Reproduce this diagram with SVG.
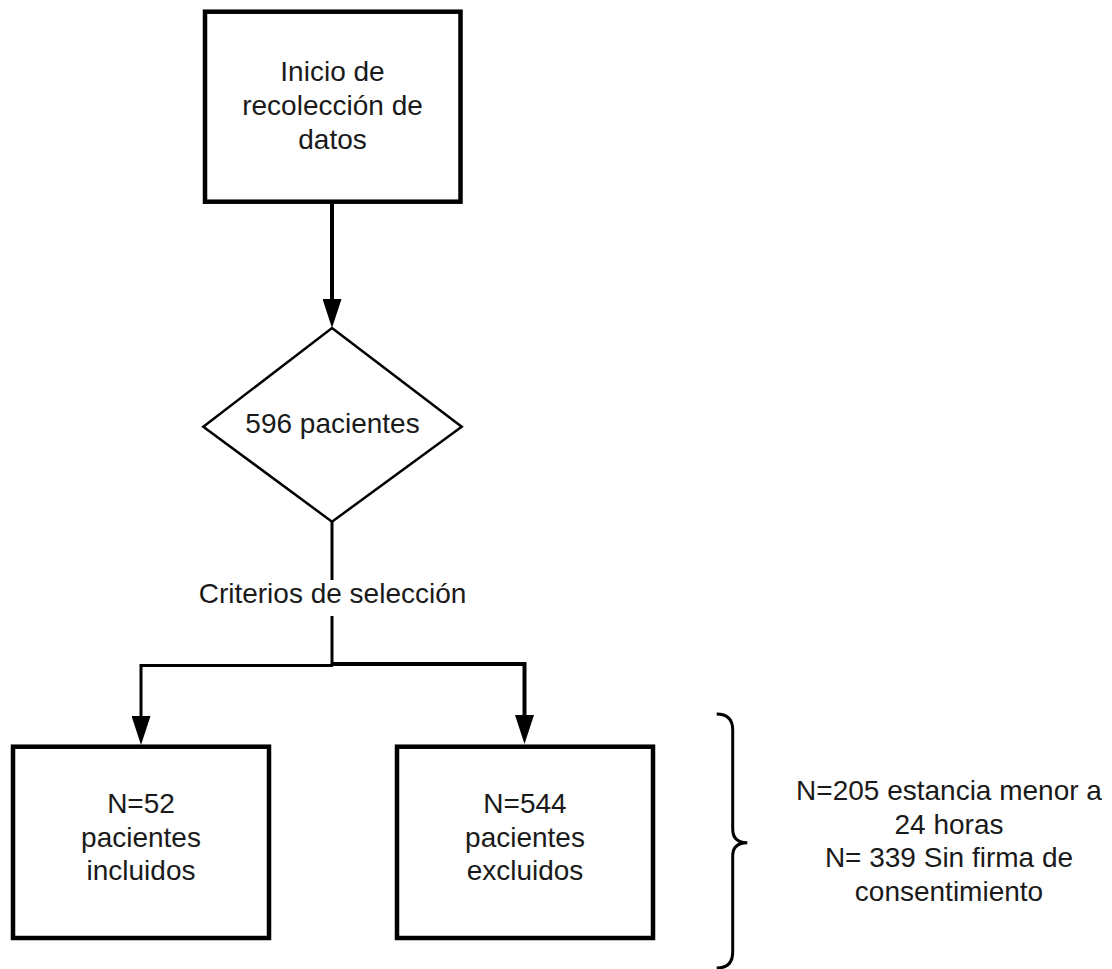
<svg xmlns="http://www.w3.org/2000/svg" width="1112" height="969" viewBox="0 0 1112 969">
<style>
.box{fill:#fff;stroke:#000;stroke-width:4.5}
.dia{fill:#fff;stroke:#000;stroke-width:2.5}
.t{font-family:"Liberation Sans",Arial,sans-serif;font-size:28px;fill:#1a1a1a;text-anchor:middle}
.c{fill:none;stroke:#000;stroke-linejoin:miter}
</style>
<defs>
<marker id="ah" viewBox="0 0 29 19" refX="0" refY="9.5" markerWidth="29" markerHeight="19" markerUnits="userSpaceOnUse" orient="auto">
<path d="M0,0 L29,9.5 L0,19 Z" fill="#000"/>
</marker>
</defs>
<g id="connectors">
<path class="c" d="M332,204 L332,299" stroke-width="4" marker-end="url(#ah)"/>
<path class="c" d="M332,522 L332,580" stroke-width="3"/>
<path class="c" d="M332,616 L332,665" stroke-width="3"/>
<path class="c" d="M333,665.5 L141,665.5 L141,716" stroke-width="3" marker-end="url(#ah)"/>
<path class="c" d="M331,664 L524.5,664 L524.5,715" stroke-width="4" marker-end="url(#ah)"/>
</g>
<g id="inicio">
<rect class="box" x="205" y="11.7" width="255.5" height="190"/>
<text class="t" x="332.5" y="81">Inicio de</text>
<text class="t" x="332.5" y="115">recolección de</text>
<text class="t" x="332.5" y="149">datos</text>
</g>
<g id="pacientes596">
<polygon class="dia" points="332,328 461.7,426.7 332,521.7 203.3,426.7"/>
<text class="t" x="332.5" y="433">596 pacientes</text>
</g>
<g id="criterios">
<text class="t" x="332.5" y="603">Criterios de selección</text>
</g>
<g id="incluidos">
<rect class="box" x="13" y="746.7" width="256" height="191.3"/>
<text class="t" x="141" y="813">N=52</text>
<text class="t" x="141" y="846.5">pacientes</text>
<text class="t" x="141" y="880">incluidos</text>
</g>
<g id="excluidos">
<rect class="box" x="397" y="746.7" width="256" height="191.3"/>
<text class="t" x="525" y="813">N=544</text>
<text class="t" x="525" y="846.5">pacientes</text>
<text class="t" x="525" y="880">excluidos</text>
</g>
<g id="detalle">
<path d="M716.7,714 Q732.7,714 732.7,730 L732.7,829 Q732.7,842.7 747.3,842.7 Q732.7,842.7 732.7,856 L732.7,952 Q732.7,968 716.7,968" fill="none" stroke="#000" stroke-width="3"/>
<text class="t" x="949" y="800">N=205 estancia menor a</text>
<text class="t" x="949" y="833.5">24 horas</text>
<text class="t" x="949" y="867">N= 339 Sin firma de</text>
<text class="t" x="949" y="900.5">consentimiento</text>
</g>
</svg>
